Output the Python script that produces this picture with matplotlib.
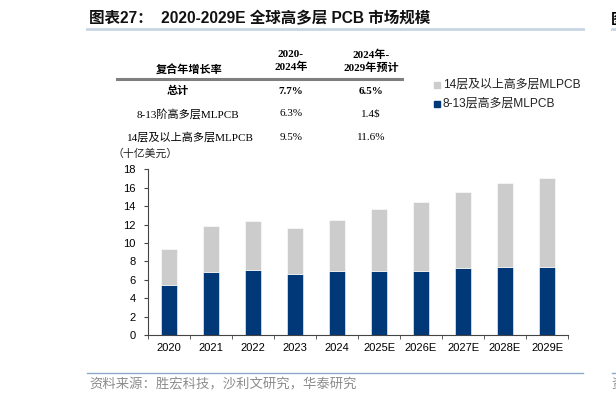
"""Global high-layer PCB market size chart, 2020-2029E."""

import matplotlib
matplotlib.use("Agg")
import matplotlib.pyplot as plt
from matplotlib.lines import Line2D
from matplotlib.patches import Rectangle

SANS = ["Liberation Sans", "Noto Sans CJK SC"]
SERIF = ["Liberation Serif", "Noto Sans CJK SC"]
CJK = ["Noto Sans CJK SC", "DejaVu Sans"]

years = ["2020", "2021", "2022", "2023", "2024", "2025E", "2026E", "2027E", "2028E", "2029E"]
mid_layer = [5.4, 6.8, 7.05, 6.6, 6.9, 7.0, 7.0, 7.27, 7.35, 7.35]
total = [9.3, 11.8, 12.4, 11.6, 12.5, 13.7, 14.4, 15.5, 16.5, 17.1]
high_layer = [t - m for t, m in zip(total, mid_layer)]

series_names = ["14层及以上高多层MLPCB", "8-13层高多层MLPCB"]
table_header = ["复合年增长率", "2020-\n2024年", "2024年-\n2029年预计"]
table_rows = [
    ["总计", "7.7%", "6.5%"],
    ["8-13阶高多层MLPCB", "6.3%", "1.4$"],
    ["14层及以上高多层MLPCB", "9.5%", "11.6%"],
]

BLUE = "#003878"
GREY = "#cccccc"
W, H = 616, 403


def fx(px):
    return px / W


def fy(py):
    return 1 - py / H


fig = plt.figure(figsize=(6.16, 4.03), dpi=100)

# title and rules
fig.text(fx(89), fy(19), "图表27：  2020-2029E 全球高多层 PCB 市场规模", family=SANS,
         fontsize=11.2, fontweight="bold", va="center", ha="left", color="#111111")
fig.add_artist(Line2D([fx(87), fx(583)], [fy(29), fy(29)], color="#c9d5e4", lw=2))
fig.add_artist(Line2D([fx(612), fx(616)], [fy(29), fy(29)], color="#c9d5e4", lw=2))
fig.text(fx(611), fy(19), "图", family=CJK, fontsize=11, fontweight="bold", va="center", ha="left")

# CAGR table
ax_x = [fx(190), fx(291), fx(371)]
fig.text(fx(189), fy(69), table_header[0], family=SERIF, fontsize=8, fontweight="bold",
         ha="center", va="center")
for i in (1, 2):
    fig.text(ax_x[i], fy(61), table_header[i], family=SERIF, fontsize=8, fontweight="bold",
             ha="center", va="center", linespacing=1.25)
fig.add_artist(Line2D([fx(117), fx(402)], [fy(79), fy(79)], color="#7f7f7f", lw=2.2))
row_y = [91, 114, 137]
label_x = [178, 188, 190]
for r, (row, yy) in enumerate(zip(table_rows, row_y)):
    weight = "bold" if r == 0 else "normal"
    fig.text(fx(label_x[r]), fy(yy), row[0], family=SERIF, fontsize=8, fontweight=weight,
             ha="center", va="center")
    for i in (1, 2):
        fig.text(ax_x[i], fy(yy), row[i], family=SERIF, fontsize=8, fontweight=weight,
                 ha="center", va="center")

# unit label
fig.text(fx(112), fy(154), "（十亿美元）", family=CJK, fontsize=7.8, ha="left", va="center",
         color="#222222")

# bars
ax = fig.add_axes([fx(148), fy(335), fx(568) - fx(148), (335 - 169.3) / H])
x = range(len(years))
ax.bar(x, mid_layer, width=0.38, color=BLUE, edgecolor="white", linewidth=0.4)
ax.bar(x, high_layer, bottom=mid_layer, width=0.38, color=GREY, edgecolor="white", linewidth=0.4)
ax.set_xlim(-0.5, len(years) - 0.5)
ax.set_ylim(0, 18)
ax.set_yticks(range(0, 19, 2))
ax.set_xticks(list(x))
ax.set_xticklabels(years)
ax.set_xticks([i - 0.5 for i in range(len(years) + 1)], minor=True)
ax.tick_params(axis="x", which="major", length=0, pad=6)
ax.tick_params(axis="x", which="minor", length=3, direction="out", color="#444444")
ax.tick_params(axis="y", length=3, direction="out", color="#444444", pad=6)
for lab in ax.get_xticklabels() + ax.get_yticklabels():
    lab.set_family(SANS)
    lab.set_fontsize(8)
for side in ("top", "right"):
    ax.spines[side].set_visible(False)
for side in ("left", "bottom"):
    ax.spines[side].set_color("#444444")
    ax.spines[side].set_linewidth(0.8)

# legend
for name, color, yy in [(series_names[0], GREY, 85), (series_names[1], BLUE, 104)]:
    fig.add_artist(Rectangle((fx(434), fy(yy + 3)), fx(6), 6 / H, color=color,
                             transform=fig.transFigure))
    fig.text(fx(443), fy(yy), name, family=SANS, fontsize=8.6, ha="left", va="center",
             color="#222222")

# source footer
fig.add_artist(Line2D([fx(87), fx(583)], [fy(373), fy(373)], color="#8fa9c9", lw=1))
fig.add_artist(Line2D([fx(612), fx(616)], [fy(373), fy(373)], color="#8fa9c9", lw=1))
fig.text(fx(89), fy(384), "资料来源：胜宏科技，沙利文研究，华泰研究", family=CJK, fontsize=9.6,
         ha="left", va="center", color="#8c8c8c")
fig.text(fx(611), fy(384), "资", family=CJK, fontsize=9.6, ha="left", va="center", color="#8c8c8c")

fig.savefig("out.png", dpi=100)
